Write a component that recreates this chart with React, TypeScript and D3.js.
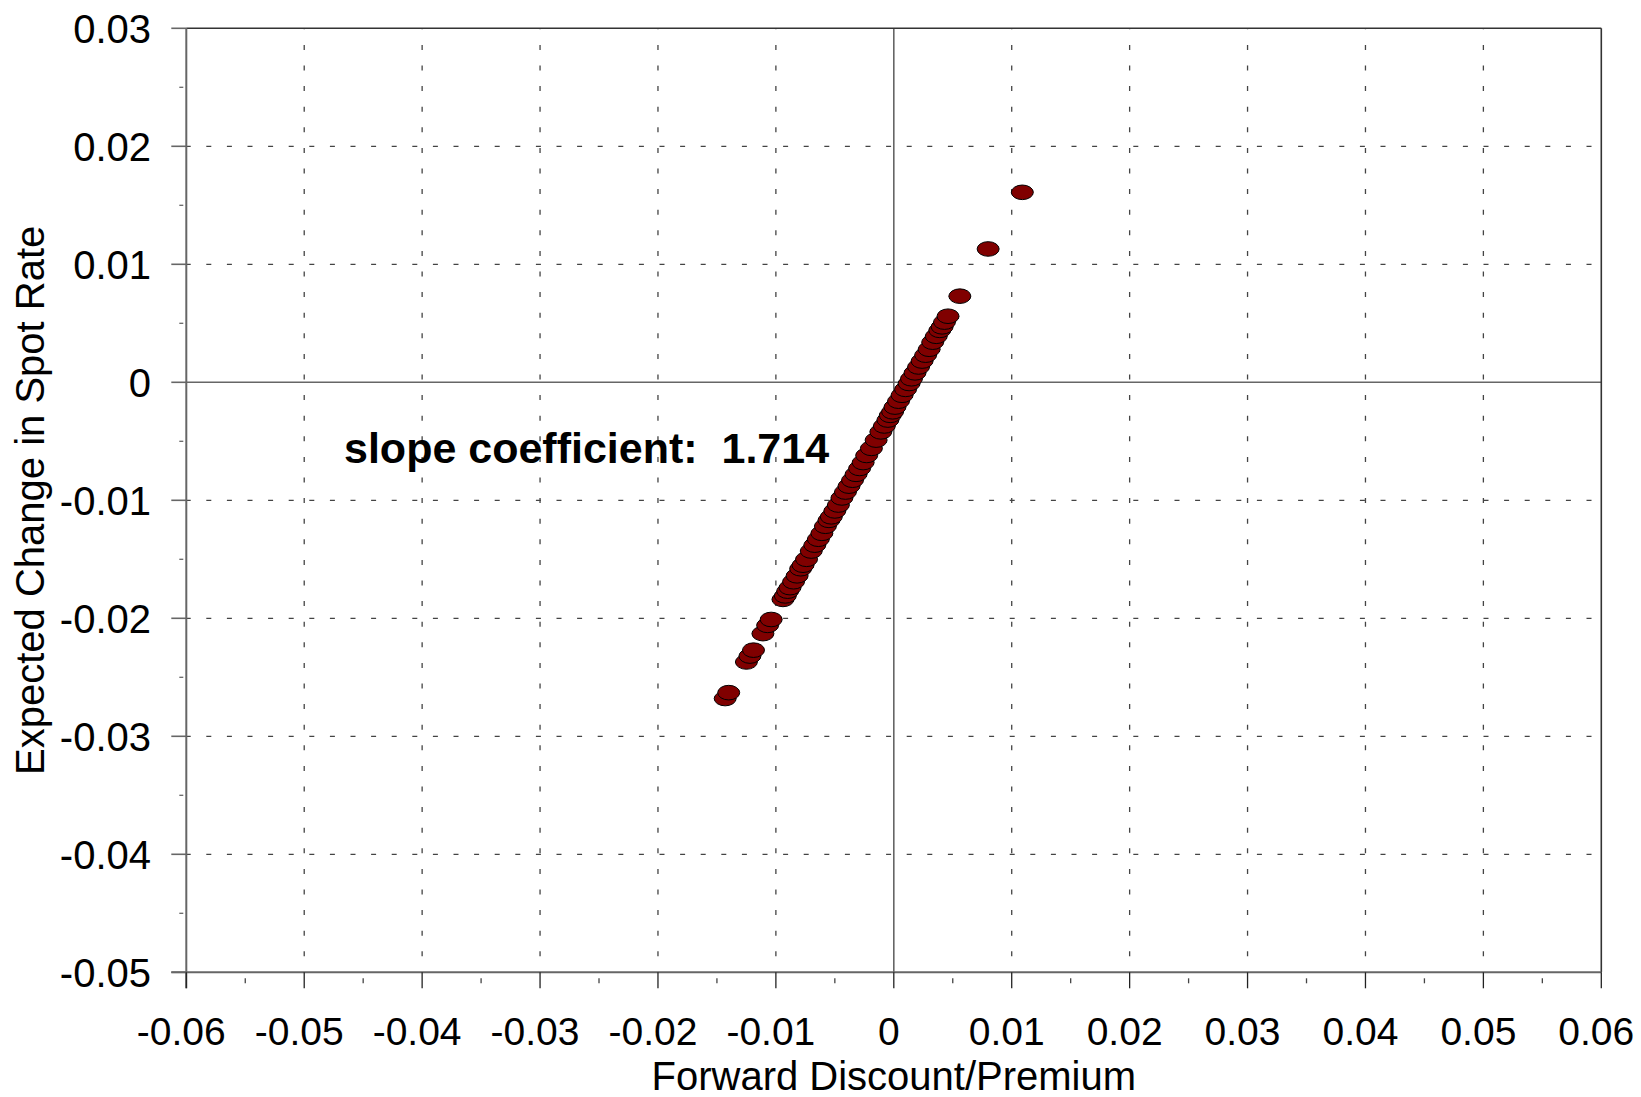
import React from "react";
import * as d3 from "d3";

const xTicks = [-0.06, -0.05, -0.04, -0.03, -0.02, -0.01, 0, 0.01, 0.02, 0.03, 0.04, 0.05, 0.06];
const xTickLabels = ["-0.06", "-0.05", "-0.04", "-0.03", "-0.02", "-0.01", "0", "0.01", "0.02", "0.03", "0.04", "0.05", "0.06"];
const yTicks = [0.03, 0.02, 0.01, 0, -0.01, -0.02, -0.03, -0.04, -0.05];
const yTickLabels = ["0.03", "0.02", "0.01", "0", "-0.01", "-0.02", "-0.03", "-0.04", "-0.05"];

// forward discount/premium (x) and expected change in spot rate (y)
const forwardDiscount = [
  -0.0143, -0.0140, -0.0125, -0.0122, -0.0119, -0.0111, -0.0107, -0.0104, -0.0094, -0.0092,
  -0.0090, -0.0088, -0.0085, -0.0082, -0.0079, -0.0077, -0.0074, -0.0070, -0.0067, -0.0064,
  -0.0061, -0.0058, -0.0055, -0.0053, -0.0050, -0.0047, -0.0044, -0.0041, -0.0038, -0.0035,
  -0.0032, -0.0029, -0.0026, -0.0023, -0.0019, -0.0015, -0.0011, -0.0008, -0.0005, -0.0003,
  -0.0001, 0.0001, 0.0004, 0.0007, 0.0010, 0.0013, 0.0015, 0.0018, 0.0021, 0.0024,
  0.0027, 0.0030, 0.0033, 0.0036, 0.0039, 0.0041, 0.0043, 0.0046, 0.0056, 0.0080, 0.0109,
];
const expectedChange = [
  -0.0268, -0.0263, -0.0237, -0.0232, -0.0227, -0.0213, -0.0206, -0.0201, -0.0184, -0.0181,
  -0.0177, -0.0174, -0.0169, -0.0164, -0.0158, -0.0155, -0.0150, -0.0143, -0.0138, -0.0133,
  -0.0128, -0.0122, -0.0117, -0.0114, -0.0109, -0.0104, -0.0098, -0.0093, -0.0088, -0.0083,
  -0.0078, -0.0073, -0.0068, -0.0062, -0.0056, -0.0049, -0.0042, -0.0037, -0.0032, -0.0028,
  -0.0025, -0.0021, -0.0016, -0.0011, -0.0006, -0.0001, 0.0003, 0.0008, 0.0013, 0.0018,
  0.0023, 0.0028, 0.0034, 0.0039, 0.0044, 0.0047, 0.0051, 0.0056, 0.0073, 0.0113, 0.0161,
];

const slopeText = "slope coefficient:  1.714";
const xTitle = "Forward Discount/Premium";
const yTitle = "Expected Change in Spot Rate";

const W = 1641;
const H = 1097;
const L = 186.3;
const R = 1601.3;
const T = 28.3;
const B = 972.3;

export default function App() {
  const x = d3.scaleLinear().domain([-0.06, 0.06]).range([L, R]);
  const y = d3.scaleLinear().domain([-0.05, 0.03]).range([B, T]);
  const xMinor = d3.range(-0.055, 0.06, 0.01);
  const yMinor = d3.range(-0.045, 0.03, 0.01);
  const font = "'Liberation Sans', Arial, sans-serif";
  const gridColor = "#444";
  const axisColor = "#666";

  const pts = forwardDiscount.map((v, i) => ({ x: v, y: expectedChange[i] }));

  return (
    <svg
      width={W}
      height={H}
      style={{ position: "absolute", left: 0, top: 0, background: "#fff" }}
      fontFamily={font}
    >
      <rect x={0} y={0} width={W} height={H} fill="#fff" />
      {/* vertical grid */}
      {xTicks
        .filter((t) => Math.abs(t) > 1e-9 && Math.abs(Math.abs(t) - 0.06) > 1e-9)
        .map((t) => (
          <line
            key={"gx" + t}
            x1={x(t)}
            x2={x(t)}
            y1={B}
            y2={T}
            stroke={gridColor}
            strokeWidth={1.3}
            strokeDasharray="5,15.6"
            strokeDashoffset={-16}
          />
        ))}
      {/* horizontal grid */}
      {yTicks
        .filter((t) => Math.abs(t) > 1e-9 && Math.abs(t - 0.03) > 1e-9 && Math.abs(t + 0.05) > 1e-9)
        .map((t) => (
          <line
            key={"gy" + t}
            x1={L}
            x2={R}
            y1={y(t)}
            y2={y(t)}
            stroke={gridColor}
            strokeWidth={1.3}
            strokeDasharray="5,15.6"
            strokeDashoffset={-20}
          />
        ))}
      {/* zero lines */}
      <line x1={x(0)} x2={x(0)} y1={T} y2={B} stroke={axisColor} strokeWidth={1.6} />
      <line x1={L} x2={R} y1={y(0)} y2={y(0)} stroke={axisColor} strokeWidth={1.6} />
      {/* frame */}
      <line x1={L} x2={R} y1={T} y2={T} stroke="#333" strokeWidth={1.6} />
      <line x1={R} x2={R} y1={T} y2={B} stroke="#333" strokeWidth={1.6} />
      <line x1={L} x2={L} y1={T} y2={B + 16} stroke={axisColor} strokeWidth={2} />
      <line x1={L - 15} x2={R} y1={B} y2={B} stroke={axisColor} strokeWidth={2} />
      {/* y ticks */}
      {yTicks.map((t) => (
        <line key={"yt" + t} x1={L - 15} x2={L} y1={y(t)} y2={y(t)} stroke={axisColor} strokeWidth={1.6} />
      ))}
      {yMinor.map((t) => (
        <line key={"ym" + t} x1={L - 7} x2={L - 3} y1={y(t)} y2={y(t)} stroke={axisColor} strokeWidth={1.3} />
      ))}
      {/* x ticks */}
      {xTicks.map((t) => (
        <line key={"xt" + t} x1={x(t)} x2={x(t)} y1={B} y2={B + 16} stroke="#222" strokeWidth={1.3} />
      ))}
      {xMinor.map((t) => (
        <line key={"xm" + t} x1={x(t)} x2={x(t)} y1={B + 6} y2={B + 11} stroke="#444" strokeWidth={1.3} />
      ))}
      {/* tick labels */}
      {yTicks.map((t, i) => (
        <text key={"yl" + t} x={151} y={y(t) + 14.3} textAnchor="end" fontSize={40} fill="#000">
          {yTickLabels[i]}
        </text>
      ))}
      {xTicks.map((t, i) => (
        <text key={"xl" + t} x={x(t) - 5} y={1045} textAnchor="middle" fontSize={39} fill="#000">
          {xTickLabels[i]}
        </text>
      ))}
      {/* axis titles */}
      <text x={x(0)} y={1090} textAnchor="middle" fontSize={40} fill="#000">
        {xTitle}
      </text>
      <text
        transform={`translate(44, ${(T + B) / 2}) rotate(-90)`}
        textAnchor="middle"
        fontSize={40}
        fill="#000"
      >
        {yTitle}
      </text>
      {/* points */}
      {pts.map((p, i) => (
        <ellipse
          key={"p" + i}
          cx={x(p.x)}
          cy={y(p.y)}
          rx={11}
          ry={7.3}
          fill="#800000"
          stroke="#000"
          strokeWidth={1}
        />
      ))}
      {/* annotation */}
      <text x={344} y={463} fontSize={43} fontWeight="bold" fill="#000" style={{ whiteSpace: "pre" }}>
        {slopeText}
      </text>
    </svg>
  );
}
